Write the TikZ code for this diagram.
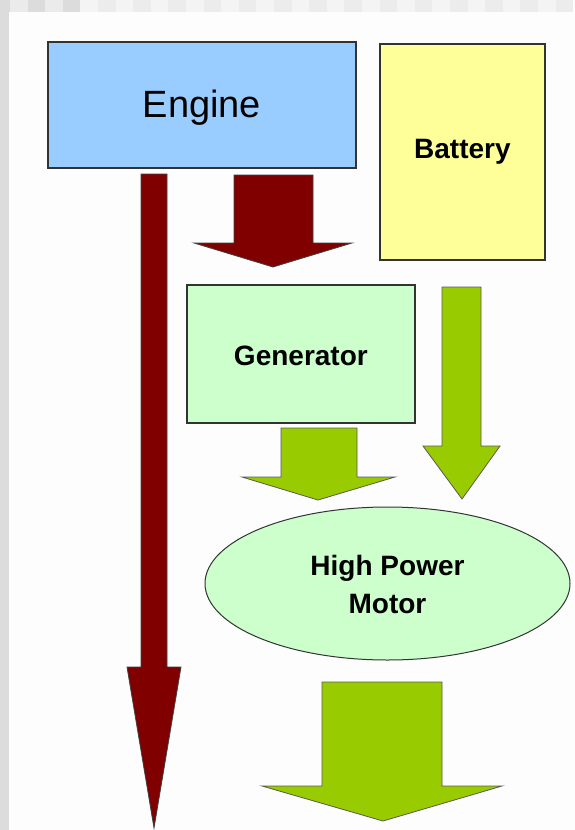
\documentclass[tikz,border=0pt]{standalone}
\usepackage{fontspec}
\setmainfont{Liberation Sans}
\usetikzlibrary{shapes.geometric}
\definecolor{engblue}{HTML}{99CCFF}
\definecolor{batyel}{HTML}{FFFF99}
\definecolor{genmint}{HTML}{CCFFCC}
\definecolor{darkred}{HTML}{800000}
\definecolor{leaf}{HTML}{99CC00}
\definecolor{bordergray}{HTML}{333333}
\definecolor{pagebg}{HTML}{FDFDFD}
\definecolor{stripdark}{HTML}{DCDCDC}
\definecolor{stripmid}{HTML}{EBEBEB}
\definecolor{stripA}{HTML}{F4F4F4}
\definecolor{stripB}{HTML}{ECECEC}
\begin{document}
\begin{tikzpicture}[x=1pt,y=-1pt,
  boxnode/.style={draw=bordergray,line width=1.8pt,inner sep=0pt,anchor=north west},
  redarrow/.style={fill=darkred,draw=black!75,line width=0.8pt,line join=miter},
  greenarrow/.style={fill=leaf,draw=black!65,line width=0.8pt,line join=miter},
  lbl/.style={font=\fontsize{28}{38}\selectfont\bfseries,align=center,text=black}]
\useasboundingbox (0,0) rectangle (575,830);
\fill[pagebg] (0,0) rectangle (575,830);
% checkered frame
\fill[stripdark] (0,0) rectangle (9,830);
\fill[stripdark] (0,0) rectangle (10,12);
\foreach \i in {0,...,31}{
  \pgfmathsetmacro{\xa}{10+17.6*\i}
  \pgfmathsetmacro{\xb}{10+17.6*(\i+1)}
  \ifnum\i<4
    \ifodd\i \fill[stripdark] (\xa,0) rectangle (\xb,12); \else \fill[stripmid] (\xa,0) rectangle (\xb,12); \fi
  \else
    \ifodd\i \fill[stripB] (\xa,0) rectangle (\xb,12); \else \fill[stripA] (\xa,0) rectangle (\xb,12); \fi
  \fi
}
% boxes
\node[boxnode,fill=engblue,minimum width=308pt,minimum height=126pt] (engine) at (47,41) {};
\node[font=\fontsize{38}{42}\selectfont] (enginelbl) at ([yshift=-3pt]engine.center) {Engine};
\node[boxnode,fill=batyel,minimum width=165pt,minimum height=216pt] (battery) at (379,43) {};
\node[lbl] (batterylbl) at (battery.center) {Battery};
\node[boxnode,fill=genmint,minimum width=228pt,minimum height=138pt] (generator) at (186,284) {};
\node[lbl] (generatorlbl) at ([yshift=-2pt]generator.center) {Generator};
\node[draw=bordergray,line width=1pt,fill=genmint,ellipse,minimum width=365pt,minimum height=153pt,inner sep=0pt] (motor) at (387.5,583.5) {};
\node[lbl] (motorlbl) at ([yshift=-1pt]motor.center) {High Power\\Motor};
% long red arrow (engine bypass)
\draw[redarrow] (141,174) -- (167,174) -- (167,667) -- (181,667) -- (154,828) -- (127,667) -- (141,667) -- cycle;
% red arrow engine -> generator
\draw[redarrow] (234,175) -- (313,175) -- (313,243) -- (352,243) -- (273,267) -- (194,243) -- (234,243) -- cycle;
% green arrow battery -> motor
\draw[greenarrow] (442,287) -- (481,287) -- (481,446) -- (500,446) -- (462,499) -- (423,446) -- (442,446) -- cycle;
% green arrow generator -> motor
\draw[greenarrow] (281,428) -- (357,428) -- (357,477) -- (395,477) -- (318,500) -- (242,477) -- (281,477) -- cycle;
% big green output arrow
\draw[greenarrow] (322,682) -- (442,682) -- (442,786) -- (502,786) -- (383,821) -- (262,786) -- (322,786) -- cycle;
\end{tikzpicture}
\end{document}
